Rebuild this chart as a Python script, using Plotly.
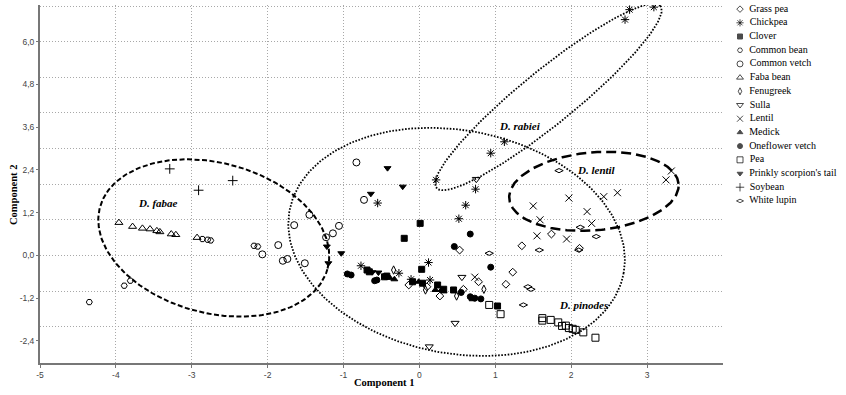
import numpy as np
import plotly.graph_objects as go

# ---------------- data ----------------
species = ["Grass pea", "Chickpea", "Clover", "Common bean", "Common vetch", "Faba bean",
           "Fenugreek", "Sulla", "Lentil", "Medick", "Oneflower vetch", "Pea",
           "Prinkly scorpion's tail", "Soybean", "White lupin"]

grass_pea_x = [1.74, 1.35, 0.53, 0.78, 1.23, 1.14, -0.14, 0.10, 0.27, 2.11, 0.58]
grass_pea_y = [0.60, 0.27, 0.15, -0.74, -0.47, -0.81, -0.83, -0.88, -1.14, 0.20, -0.95]

chickpea_x = [2.77, 2.71, 3.09, 0.22, 0.94, 1.12, 0.74, 0.61, 0.52, -0.55, 0.12, -0.77, -0.27, 0.14, -0.11]
chickpea_y = [6.90, 6.62, 6.97, 2.12, 2.87, 3.19, 1.86, 1.41, 1.03, 1.47, -0.20, -0.29, -0.50, -0.69, -0.67]

clover_x = [0.01, -0.20, 0.03, -0.69, -0.66, -0.46, -0.43, -0.09, 0.04, 0.24, 0.32, 0.45, 1.03]
clover_y = [0.90, 0.48, -0.39, -0.41, -0.46, -0.60, -0.58, -0.74, -0.78, -0.83, -0.95, -0.97, -1.42]

common_bean_x = [-2.86, -2.79, -2.75, -2.18, -2.13, -3.89, -3.81, -4.35]
common_bean_y = [0.46, 0.44, 0.42, 0.27, 0.25, -0.85, -0.71, -1.31]

common_vetch_x = [-0.83, -0.73, -1.45, -1.65, -1.06, -1.14, -1.23, -1.86, -2.07, -1.80, -1.74, -1.51]
common_vetch_y = [2.61, 1.56, 1.14, 0.85, 0.83, 0.62, 0.51, 0.29, 0.03, -0.15, -0.10, -0.22]

faba_bean_x = [-3.96, -3.78, -3.65, -3.55, -3.46, -3.42, -3.27, -3.21, -2.93]
faba_bean_y = [0.92, 0.81, 0.76, 0.74, 0.69, 0.66, 0.60, 0.58, 0.50]

fenugreek_x = [-0.34, 0.85, 0.49, 0.08]
fenugreek_y = [-0.41, -0.95, -1.14, -0.97]

sulla_x = [0.75, 0.56, 0.47, 0.13]
sulla_y = [2.14, -0.61, -1.90, -2.56]

lentil_x = [3.32, 3.25, 1.97, 2.43, 2.61, 1.50, 2.21, 1.59, 2.27, 1.55, 1.94, 0.73]
lentil_y = [2.37, 2.12, 1.61, 1.65, 1.76, 1.39, 1.23, 1.00, 0.90, 0.55, 0.46, -0.61]

medick_x = [-0.33, -0.01, 0.21, 0.29, 0.32, 0.70, -0.39]
medick_y = [-0.67, -0.74, -0.97, -0.97, -1.01, -1.23, -0.63]

oneflower_x = [-0.90, -0.95, -0.59, -0.56, 0.67, 0.46, 0.94, 0.55, 0.67, 0.73, 0.81]
oneflower_y = [-0.55, -0.52, -0.71, -0.69, 0.60, 0.25, -0.33, -1.04, -1.16, -1.20, -1.22]

pea_x = [0.92, 1.07, 1.62, 1.62, 1.73, 1.83, 1.88, 1.93, 1.97, 2.02, 2.06, 2.16, 2.32]
pea_y = [-1.39, -1.65, -1.76, -1.83, -1.81, -1.88, -1.98, -1.97, -2.04, -2.06, -2.09, -2.16, -2.31]

prinkly_x = [-0.42, -0.22, -0.64, -1.22, -1.03, -1.20, -0.62, -0.54]
prinkly_y = [2.45, 1.93, 1.73, 0.25, 0.06, -0.22, -0.47, -0.48]

soybean_x = [-3.29, -2.46, -2.91]
soybean_y = [2.43, 2.10, 1.83]

white_lupin_x = [1.84, 2.12, 2.33, 1.58, 2.10, 1.43, 1.47, 1.37, 0.92]
white_lupin_y = [2.38, 0.79, 0.53, 0.15, 0.15, -0.88, -0.95, -1.39, 0.06]

series_x = [grass_pea_x, chickpea_x, clover_x, common_bean_x, common_vetch_x, faba_bean_x,
            fenugreek_x, sulla_x, lentil_x, medick_x, oneflower_x, pea_x, prinkly_x,
            soybean_x, white_lupin_x]
series_y = [grass_pea_y, chickpea_y, clover_y, common_bean_y, common_vetch_y, faba_bean_y,
            fenugreek_y, sulla_y, lentil_y, medick_y, oneflower_y, pea_y, prinkly_y,
            soybean_y, white_lupin_y]

x_ticks = [-5, -4, -3, -2, -1, 0, 1, 2, 3]
y_tick_vals = [-2.4, -1.2, 0.0, 1.2, 2.4, 3.6, 4.8, 6.0]
y_tick_text = ["-2,4", "-1,2", "0,0", "1,2", "2,4", "3,6", "4,8", "6,0"]

# pathogen group ellipses: label, centre x, centre y, semi-axis a, semi-axis b (x units), angle (deg)
groups = ["D. fabae", "D. pinodes", "D. rabiei", "D. lentil"]
group_cx = [-2.71, 0.49, 1.70, 2.30]
group_cy = [0.49, 0.38, 4.45, 1.80]
group_a = [1.553, 2.24, 1.90, 1.12]
group_b = [0.987, 1.467, 0.355, 0.513]
group_angle = [-15, -10.7, 39, 5]
label_x = [-3.45, 2.16, 1.32, 2.34]
label_y = [1.47, -1.39, 3.62, 2.40]

# ---------------- styles ----------------
symbols = ["diamond-open", "asterisk-open", "square", "hexagon2-open", "circle-open",
           "triangle-up-open", "diamond-tall-open", "triangle-down-open", "x-thin-open",
           "triangle-up", "circle", "square-open", "triangle-down", "cross-thin-open",
           "diamond-wide-open"]
sizes = [6, 7, 6, 6, 7, 7, 6, 7, 7, 6, 6, 7, 6, 7, 6]
ell_dash = ["5px,2.5px", "1.6px,1.6px", "1.6px,1.6px", "10px,5px"]
ell_width = [2, 1.8, 1.8, 2.5]

XRANGE = [-5, 4.001]
YRANGE = [-3.02, 7.03]
K = 76 / 35.6  # pixel aspect between x and y units

fig = go.Figure()

# gridlines live on the main y axis; tick labels on the overlaid y2
fig.add_trace(go.Scatter(x=[], y=[], xaxis="x", yaxis="y2", showlegend=False))

# ellipses
for g, cx, cy, a, b, ang, dsh, w in zip(groups, group_cx, group_cy, group_a, group_b,
                                        group_angle, ell_dash, ell_width):
    t = np.linspace(0, 2 * np.pi, 241)
    th = np.deg2rad(ang)
    u = a * np.cos(t) * np.cos(th) - b * np.sin(t) * np.sin(th)
    v = a * np.cos(t) * np.sin(th) + b * np.sin(t) * np.cos(th)
    fig.add_trace(go.Scatter(x=cx + u, y=cy + v * K, mode="lines",
                             line=dict(color="black", width=w, dash=dsh),
                             hoverinfo="skip", showlegend=False))

for name, xs, ys, sym, sz in zip(species, series_x, series_y, symbols, sizes):
    fig.add_trace(go.Scatter(x=xs, y=ys, mode="markers", name=name, showlegend=False,
                             marker=dict(symbol=sym, size=sz, color="black",
                                         line=dict(color="black", width=1))))

# custom legend on its own small axes
n = len(species)
fig.add_trace(go.Scatter(
    x=[0.062] * n, y=[-i for i in range(n)], mode="markers+text",
    text=["\u00a0\u00a0" + s for s in species], textposition="middle right",
    textfont=dict(family="Liberation Serif", size=10, color="black"),
    marker=dict(symbol=symbols, size=[s - 1 for s in sizes], color="black",
                line=dict(color="black", width=1)),
    xaxis="x3", yaxis="y3", showlegend=False, hoverinfo="skip", cliponaxis=False))

for g, lx, ly in zip(groups, label_x, label_y):
    fig.add_annotation(x=lx, y=ly, xref="x", yref="y", text="<b><i>%s</i></b>" % g,
                       showarrow=False,
                       font=dict(family="Liberation Serif", size=11, color="black"))

fig.add_annotation(x=(384 - 40) / 806, y=(363 - 382) / 358, xref="paper", yref="paper",
                   xanchor="center", yanchor="middle",
                   text="<b>Component 1</b>", showarrow=False,
                   font=dict(family="Liberation Serif", size=10.5, color="black"))
fig.add_annotation(x=(13 - 40) / 806, y=(363 - 195) / 358, xref="paper", yref="paper",
                   xanchor="center", yanchor="middle",
                   text="<b>Component 2</b>", showarrow=False, textangle=-90,
                   font=dict(family="Liberation Serif", size=10.5, color="black"))

tickfont = dict(family="Liberation Sans", size=8.5, color="#444")
grid = dict(showgrid=True, gridcolor="#a8a8a8", griddash="1px,2px", gridwidth=1)
fig.update_layout(
    width=846, height=395,
    margin=dict(l=40, r=0, t=5, b=32),
    paper_bgcolor="white", plot_bgcolor="white",
    showlegend=False,
    xaxis=dict(domain=[0, 683 / 806], range=XRANGE, tickvals=x_ticks,
               ticktext=[str(v) for v in x_ticks], tickfont=tickfont,
               zeroline=False, showline=True, linecolor="#777", linewidth=1.5,
               ticks="outside", ticklen=3, tickcolor="#777", anchor="y", **grid),
    yaxis=dict(domain=[0, 1], range=YRANGE, dtick=1, tick0=0,
               showticklabels=False, ticks="",
               zeroline=False, showline=True, linecolor="#777", linewidth=1.5,
               anchor="x", **grid),
    yaxis2=dict(overlaying="y", side="left", range=YRANGE, anchor="x",
                tickvals=y_tick_vals, ticktext=y_tick_text, tickfont=tickfont,
                showgrid=False, zeroline=False, showline=False,
                ticks="outside", ticklen=3, tickcolor="#777"),
    xaxis3=dict(domain=[(733 - 40) / 806, 1], range=[0, 1], visible=False,
                anchor="y3", fixedrange=True),
    yaxis3=dict(domain=[1 - 201.4 / 358, 1], range=[-14.4, 0.3], visible=False,
                anchor="x3", fixedrange=True),
)

fig.write_html("out.html", config={"displayModeBar": False},
               post_script="document.body.style.margin='0px';")
